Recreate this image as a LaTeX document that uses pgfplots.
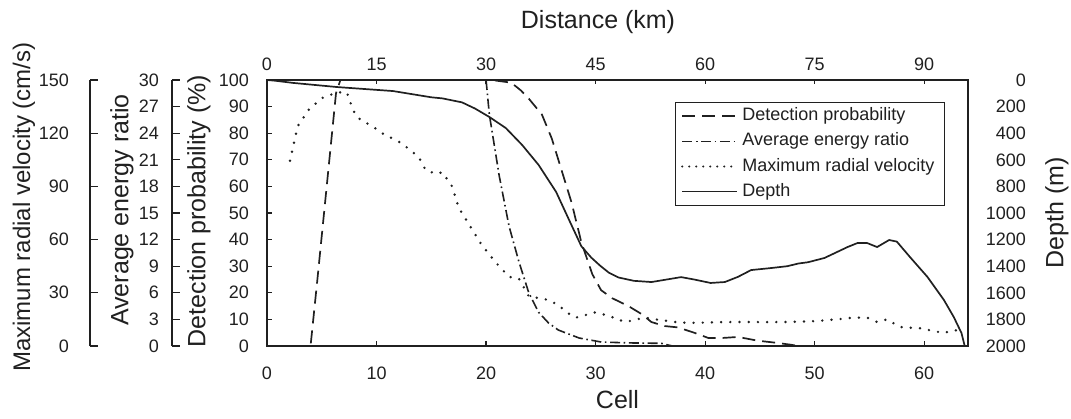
\documentclass[border=0pt]{standalone}
\usepackage{fontspec}
\setmainfont{Liberation Sans}
\usepackage{pgfplots}
\pgfplotsset{compat=1.18}
\definecolor{ink}{HTML}{202020}

\pgfplotsset{
  base/.style={
    scale only axis, height=133pt, ymin=0,
    font=\fontsize{9}{10}\selectfont,
    /pgf/number format/assume math mode=true,
    /pgf/number format/1000 sep={},
    tick label style={ink},
    tick style={ink, line width=0.6pt},
    axis line style={ink, line width=0.8pt},
    tick align=inside,
  },
  sidey/.style={base, width=20pt, axis x line=none, axis y line*=left,
    major tick length=4pt, xmin=0, xmax=1},
}

\begin{document}
\begin{tikzpicture}
\path[use as bounding box] (0,0) rectangle (535.5pt,209pt);

% maximum radial velocity scale (outermost)
\begin{axis}[sidey, at={(45pt,36pt)}, anchor=south west,
  ymax=150, ytick={0,30,...,150},
  yticklabel style={xshift=-7pt}]
\end{axis}

% average energy ratio scale
\begin{axis}[sidey, at={(86pt,36pt)}, anchor=south west,
  ymax=30, ytick={0,3,...,30},
  yticklabel style={xshift=-3pt}]
\end{axis}

% distance on top
\begin{axis}[base, at={(133.5pt,36pt)}, anchor=south west, width=350.5pt,
  xmin=0, xmax=96, ymax=1, xtick={0,15,...,90},
  axis x line*=top, axis y line=none, major tick length=2pt,
  xticklabel style={yshift=1pt}]
\end{axis}

% depth on the right
\begin{axis}[base, at={(133.5pt,36pt)}, anchor=south west, width=350.5pt,
  xmin=0, xmax=64, ymax=2000, y dir=reverse,
  ytick={0,200,...,2000},
  axis x line=none, axis y line*=right, major tick length=0pt,
  yticklabel style={anchor=east, xshift=32.5pt}]
\addplot[ink, line width=0.85pt] coordinates {
  (0,0) (0.7,5) (2.4,22) (6.4,53) (11.5,83) (15,130) (16,138) (17.8,168)
  (19,215) (20.3,278) (21.8,361) (23.3,489) (24.8,639) (26.4,842)
  (27.5,1038) (28.7,1250) (29.6,1335) (30.4,1395) (31.2,1448) (32.1,1485)
  (33.5,1510) (35.1,1519) (36.5,1500) (37.8,1482) (39,1500) (40.5,1526)
  (41.8,1519) (43,1480) (44.2,1429) (46,1414) (47.5,1400) (48.5,1380)
  (49.4,1370) (50.9,1338) (52,1295) (53,1256) (53.9,1226) (54.8,1226)
  (55.7,1256) (56.8,1203) (57.5,1215) (58.7,1331) (60.3,1481) (61.8,1654)
  (62.7,1782) (63.4,1902) (63.7,2000)};
\end{axis}

% energy ratio curve
\begin{axis}[base, at={(133.5pt,36pt)}, anchor=south west, width=350.5pt,
  xmin=0, xmax=64, ymax=30, hide axis]
\addplot[ink, line width=0.8pt, dash pattern=on 5pt off 1.8pt on 0.8pt off 1.8pt] coordinates {
  (20,30) (20.3,26.1) (21.2,19.2) (22.1,13.5) (23,9.5) (23.9,6) (24.8,3.8)
  (25.7,2.6) (26.6,1.8) (28.5,0.9) (30.5,0.45) (33,0.35) (36,0.3) (37,0) (64,0)};
\end{axis}

% velocity curve
\begin{axis}[base, at={(133.5pt,36pt)}, anchor=south west, width=350.5pt,
  xmin=0, xmax=64, ymax=150, hide axis]
\addplot[ink, line width=1.35pt, line cap=round, dash pattern=on 0pt off 4.6pt] coordinates {
  (2.1,104.5) (2.4,113) (2.8,124) (3.9,134) (5.1,140) (6.4,143) (7.3,143)
  (7.8,134) (8.2,129) (9,126) (9.6,124) (10.5,120) (12.1,115) (13.2,110)
  (13.9,106) (14.5,99) (15.5,97) (16,98) (16.9,90) (17.5,78) (18.5,68)
  (19.6,57) (20.9,47) (22.1,39) (23,38) (23.9,28) (25.7,26) (26.6,23)
  (27.8,17) (28.2,16) (30,19) (31.2,17) (32.7,13.5) (34.5,16) (35.5,15)
  (37.3,13.5) (38.5,13) (42,13.5) (47.5,13.5) (50,14) (52,15) (53.6,16)
  (54.8,16) (55.7,13.5) (56.6,15) (57.8,10.7) (59.6,10) (61.8,7.3)
  (62.7,9) (63.7,8)};
\end{axis}

% main axis: detection probability vs cell
\begin{axis}[base, at={(133.5pt,36pt)}, anchor=south west, width=350.5pt,
  xmin=0, xmax=64, ymax=100,
  xtick={0,10,...,60}, ytick={0,10,...,100},
  tick pos=left, major tick length=2.5pt,
  xticklabel style={yshift=-7pt},
  yticklabel style={xshift=-5.5pt},
  legend cell align=left,
  legend image code/.code={\draw[#1] (0pt,0pt) -- (27.5pt,0pt);},
  legend style={at={(rel axis cs:0.967,0.917)}, anchor=north east,
    draw=ink, line width=0.4pt, fill=white,
    font=\fontsize{9}{10}\selectfont, text=ink,
    inner xsep=3pt, inner ysep=0.5pt, row sep=0pt,
    nodes={inner ysep=2pt, text height=6.6pt, text depth=2pt}},
]
\addplot[ink, line width=0.85pt, dash pattern=on 6.5pt off 3.5pt] coordinates {
  (4.0,1) (4.6,25) (5.45,60) (6.3,95) (6.7,100) (20.5,100) (22.3,99)
  (23.2,96) (23.9,93) (25.1,87) (26,78) (26.6,70) (27.8,54) (28.7,39)
  (29.7,27) (30.5,21) (31.5,18) (33,15) (34.2,12) (35.1,9) (36.3,7.5)
  (37.5,7) (39,5) (40.3,3) (41.5,3) (43,3.4) (44.8,2) (46.3,1.3)
  (47.8,0.5) (48.5,0)};
\addlegendentry{Detection probability}
\addlegendimage{ink, line width=0.6pt, dash pattern=on 5pt off 1.8pt on 0.8pt off 1.8pt}
\addlegendentry{Average energy ratio}
\addlegendimage{ink, line width=1.1pt, line cap=round, dash pattern=on 0pt off 3.5pt}
\addlegendentry{Maximum radial velocity}
\addlegendimage{ink, line width=0.6pt}
\addlegendentry{Depth}
\end{axis}

% axis titles
\begin{scope}[font=\fontsize{12.5}{14}\selectfont, text=ink]
\node[rotate=90, font=\fontsize{12}{14}\selectfont] at (12pt,105.5pt) {Maximum radial velocity (cm/s)};
\node[rotate=90] at (61pt,104pt) {Average energy ratio};
\node[rotate=90] at (99.5pt,103.5pt) {Detection probability (\%)};
\node[rotate=90] at (528.5pt,102.5pt) {Depth (m)};
\node at (308.75pt,9pt) {Cell};
\node at (299pt,198pt) {Distance (km)};
\end{scope}
\end{tikzpicture}
\end{document}
